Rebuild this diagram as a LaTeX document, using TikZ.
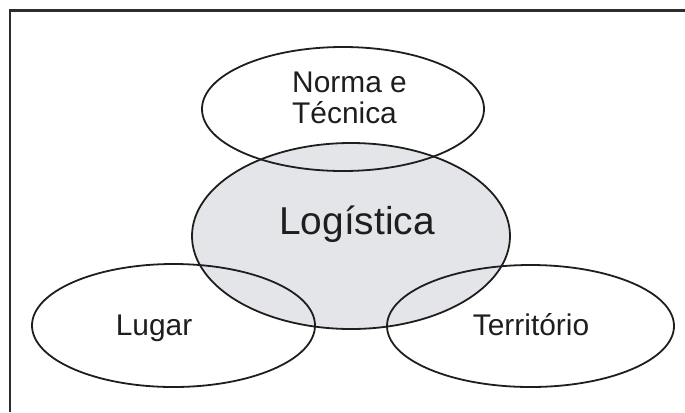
\documentclass[tikz,border=0pt]{standalone}
\usepackage{fontspec}
\setmainfont{Liberation Sans}
\usetikzlibrary{shapes.geometric}
\definecolor{framegray}{RGB}{45,45,45}
\definecolor{loggray}{RGB}{228,229,233}
\definecolor{inkblack}{RGB}{30,30,30}
\begin{document}
\begin{tikzpicture}[x=1bp,y=-1bp,
  oval/.style={ellipse, inner sep=0pt, outer sep=0pt},
  ovalline/.style={oval, draw=inkblack, line width=1.8bp},
  lbl/.style={anchor=base, inner sep=0pt, text=inkblack, font=\fontsize{30}{32}\selectfont},
  biglbl/.style={anchor=base, inner sep=0pt, text=inkblack, font=\fontsize{39}{41}\selectfont}]
\useasboundingbox (0,0) rectangle (685,412);
% frame (only top and left edges are visible)
\draw[framegray, line width=2.4bp] (9.7,412) -- (9.7,10.5) -- (685,10.5);
% gray fill of Logistica
\node[oval, fill=loggray, minimum width=318bp, minimum height=186bp] (logfill) at (351,236) {};
% outlines
\node[ovalline, minimum width=318bp, minimum height=186bp] (log) at (351,236) {};
\node[ovalline, minimum width=282bp, minimum height=124bp] (norma) at (343,109) {};
\node[ovalline, minimum width=283bp, minimum height=123bp] (lugar) at (173.5,325.5) {};
\node[ovalline, minimum width=287bp, minimum height=122bp] (terr) at (530.5,326) {};
% labels
\node[lbl, anchor=base west] (t1) at (292,92) {Norma e};
\node[lbl, anchor=base west] (t2) at (292,123) {Técnica};
\node[biglbl] (tlog) at (357,234) {Logística};
\node[lbl] (tlug) at (154,335) {Lugar};
\node[lbl] (tter) at (531,335) {Território};
\end{tikzpicture}
\end{document}
